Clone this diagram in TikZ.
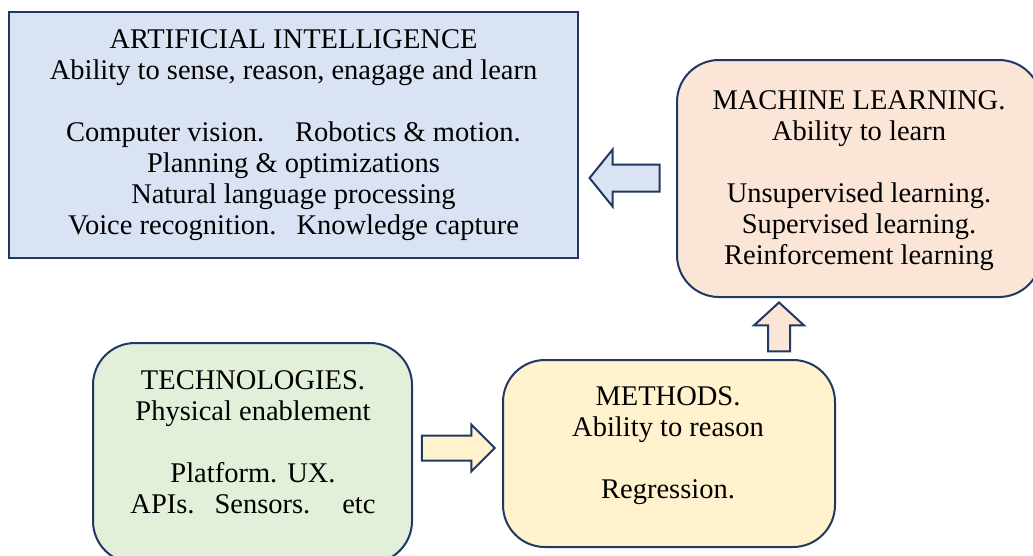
\documentclass[tikz,border=0pt]{standalone}
\usepackage{fontspec}
\setmainfont{Liberation Serif}
\usetikzlibrary{shapes.arrows}
\definecolor{navy}{HTML}{1F3864}
\definecolor{aifill}{HTML}{DAE3F3}
\definecolor{mlfill}{HTML}{FBE5D6}
\definecolor{techfill}{HTML}{E2F0D9}
\definecolor{methfill}{HTML}{FFF2CC}
\begin{document}
\begin{tikzpicture}[x=1pt,y=-1pt,
  box/.style={draw=navy, line width=2pt, inner sep=0pt},
  rbox/.style={box, rounded corners=42pt},
  txt/.style={align=center, font=\fontsize{28.5}{31}\selectfont, inner sep=0pt, anchor=north},
  blockarrow/.style={single arrow, draw=navy, line width=2pt, inner xsep=0pt}
]
\useasboundingbox (0,0) rectangle (1033,555);
% boxes
\node[box, fill=aifill, minimum width=569pt, minimum height=246pt] (ai) at (293.5,135) {};
\node[rbox, fill=mlfill, minimum width=364pt, minimum height=237pt] (ml) at (859,178.5) {};
\node[rbox, fill=techfill, minimum width=319pt, minimum height=220pt] (tech) at (252.5,453) {};
\node[rbox, fill=methfill, minimum width=332pt, minimum height=187pt] (meth) at (669,453.5) {};
% texts
\node[txt] (aitxt) at (293.5,29) {ARTIFICIAL INTELLIGENCE\\Ability to sense, reason, enagage and learn\\[31pt]
Computer vision.\hspace{31pt}Robotics \& motion.\\Planning \& optimizations\\Natural language processing\\Voice recognition.\hspace{20pt}Knowledge capture};
\node[txt] (mltxt) at (859,90) {MACHINE LEARNING.\\Ability to learn\\[31pt]Unsupervised learning.\\Supervised learning.\\Reinforcement learning};
\node[txt] (techtxt) at (253,370) {TECHNOLOGIES.\\Physical enablement\\[31pt]Platform.\hspace{10pt}UX.\\APIs.\hspace{20pt}Sensors.\hspace{32pt}etc};
\node[txt] (methtxt) at (668,386) {METHODS.\\Ability to reason\\[31pt]Regression.};
% block arrows
\node[blockarrow, fill=aifill, shape border rotate=180, minimum height=70pt, inner ysep=12.5pt, single arrow head extend=15pt, single arrow tip angle=102] (a1) at (630,178) {};
\node[blockarrow, fill=methfill, minimum height=73pt, inner ysep=11.5pt, single arrow head extend=11pt, single arrow tip angle=90] (a2) at (452,448) {};
\node[blockarrow, fill=mlfill, rotate=90, minimum height=49pt, inner ysep=10pt, single arrow head extend=14pt, single arrow tip angle=95] (a3) at (779,332) {};
\end{tikzpicture}
\end{document}
